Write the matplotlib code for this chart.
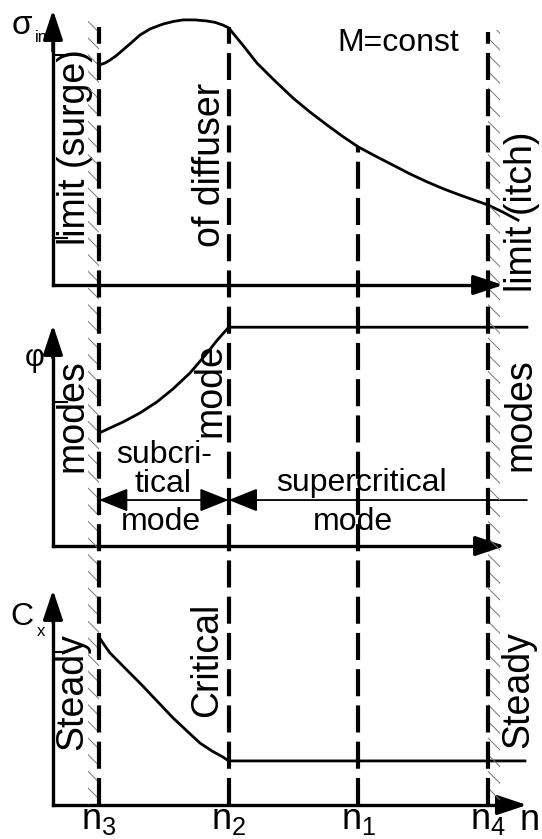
import matplotlib
matplotlib.use('Agg')
import matplotlib.pyplot as plt
from matplotlib.patches import Rectangle
from matplotlib.lines import Line2D
import matplotlib.transforms as mtransforms

plt.rcParams['font.family'] = ['Liberation Sans', 'DejaVu Sans']
plt.rcParams['mathtext.fontset'] = 'custom'
plt.rcParams['mathtext.rm'] = 'Liberation Sans'
plt.rcParams['hatch.linewidth'] = 0.7

# ---------------- data ----------------
n_ticks = [1.0, 2.0, 3.0, 4.0]
n_tick_labels = [r'$\mathregular{n_3}$', r'$\mathregular{n_2}$',
                 r'$\mathregular{n_1}$', r'$\mathregular{n_4}$']

sigma_n = [1.0, 1.046, 1.085, 1.131, 1.185, 1.247, 1.316, 1.393, 1.494, 1.571,
           1.648, 1.740, 1.833, 1.895, 1.957, 2.0,
           2.108, 2.218, 2.357, 2.496, 2.627, 2.758, 2.874, 3.0, 3.131,
           3.267, 3.398, 3.530, 3.660, 3.784, 3.892, 4.0, 4.115, 4.231]
sigma_val = [0.80, 0.807, 0.818, 0.833, 0.855, 0.880, 0.909, 0.931, 0.949, 0.958,
             0.964, 0.964, 0.960, 0.955, 0.945, 0.935,
             0.873, 0.807, 0.742, 0.680, 0.629, 0.582, 0.542, 0.502, 0.469,
             0.436, 0.404, 0.375, 0.349, 0.327, 0.309, 0.291, 0.265, 0.236]

phi_n = [1.0, 1.085, 1.185, 1.316, 1.447, 1.571, 1.702, 1.833, 1.910, 2.0, 4.30]
phi_val = [0.511, 0.534, 0.561, 0.602, 0.652, 0.711, 0.783, 0.873, 0.930, 0.99, 0.99]

cx_n = [1.0, 1.046, 1.085, 1.200, 1.316, 1.447, 1.571, 1.679, 1.779, 1.872, 1.956,
        2.0, 4.285]
cx_val = [0.781, 0.740, 0.707, 0.637, 0.567, 0.484, 0.405, 0.344, 0.288, 0.251,
          0.223, 0.205, 0.205]

# levels for boundary lines
n3_top = 0.938
n4_top = 0.92
sigma_at_n1 = 0.502
mode_arrow_y = 0.208

# ---------------- layout ----------------
W, H = 542, 839
fig = plt.figure(figsize=(W / 100, H / 100), dpi=100)
XLIM = (0.2365, 4.4164)
X_AXIS = 0.645
FS_ROT = 27
FS_H = 23
LW_AX = 2.4


def P(x, y):
    return x / W, 1 - y / H


def make_panel(rect, x_end, yticks):
    ax = fig.add_axes(rect)
    ax.set_xlim(*XLIM)
    ax.set_ylim(0, 1)
    ax.patch.set_visible(False)
    for s in ['top', 'right']:
        ax.spines[s].set_visible(False)
    ax.spines['left'].set_position(('data', X_AXIS))
    ax.spines['left'].set_bounds(0, 0.93)
    ax.spines['bottom'].set_position(('data', 0))
    ax.spines['bottom'].set_bounds(X_AXIS, x_end - 0.08)
    for s in ['left', 'bottom']:
        ax.spines[s].set_linewidth(LW_AX)
    ax.set_yticks(yticks)
    ax.tick_params(axis='y', direction='in', length=11, width=1.5, labelleft=False)
    ax.set_xticks([])
    ap = dict(arrowstyle='-|>,head_length=0.9,head_width=0.3', color='black',
              lw=LW_AX, mutation_scale=20, shrinkA=0, shrinkB=0)
    ax.annotate('', xy=(X_AXIS, 1.0), xytext=(X_AXIS, 0.85), arrowprops=ap,
                annotation_clip=False)
    ax.annotate('', xy=(x_end, 0), xytext=(x_end - 0.2, 0), arrowprops=ap,
                annotation_clip=False)
    return ax


ax_top = make_panel([0, (H - 285) / H, 1, 275 / H], 4.116, [0.836, 0.171])
ax_mid = make_panel([0, (H - 546) / H, 1, 221 / H], 4.131, [0.652])
ax_bot = make_panel([0, (H - 805) / H, 1, 215 / H], 4.30, [0.712])

ax_top.plot(sigma_n, sigma_val, color='black', lw=2.0, clip_on=False)
ax_mid.plot(phi_n, phi_val, color='black', lw=2.0, clip_on=False)
ax_bot.plot(cx_n, cx_val, color='black', lw=2.0, clip_on=False)

ax_bot.set_xticks(n_ticks)
ax_bot.set_xticklabels(n_tick_labels, fontsize=26)
ax_bot.tick_params(axis='x', length=0, pad=-2)

# mode arrows in middle panel
dbl = dict(arrowstyle='<|-|>,head_length=1.0,head_width=0.4', color='black',
           lw=1.3, mutation_scale=18, shrinkA=0, shrinkB=0)
ax_mid.annotate('', xy=(n_ticks[0], mode_arrow_y), xytext=(n_ticks[1], mode_arrow_y),
                arrowprops=dbl)
sgl = dict(arrowstyle='-|>,head_length=1.0,head_width=0.4', color='black',
           lw=1.3, mutation_scale=18, shrinkA=0, shrinkB=0)
ax_mid.annotate('', xy=(n_ticks[1], mode_arrow_y), xytext=(4.30, mode_arrow_y),
                arrowprops=sgl, annotation_clip=False)

# boundary dashed lines and hatching
trans = mtransforms.blended_transform_factory(ax_bot.transData, fig.transFigure)


def fig_y(ax, y):
    return fig.transFigure.inverted().transform(ax.transData.transform((1.0, y)))[1]


y_bottom = fig_y(ax_bot, 0)
tops = [fig_y(ax_top, n3_top), fig_y(ax_top, n3_top),
        fig_y(ax_top, sigma_at_n1), fig_y(ax_top, n4_top)]
for n, yt in zip(n_ticks, tops):
    fig.add_artist(Line2D([n, n], [y_bottom, yt], transform=trans, color='black',
                          lw=3.0, dashes=(6.5, 2.2), zorder=5))

hatch_top_l = 1 - 20 / H
hatch_top_r = 1 - 30 / H
fig.add_artist(Rectangle((0.915, y_bottom), 0.085, hatch_top_l - y_bottom,
                         transform=trans, fill=False, hatch='\\\\',
                         edgecolor='#777777', lw=0, zorder=4))
fig.add_artist(Rectangle((4.0, y_bottom), 0.093, hatch_top_r - y_bottom,
                         transform=trans, fill=False, hatch='\\\\',
                         edgecolor='#777777', lw=0, zorder=4))

# ---------------- texts ----------------
tr = dict(ha='center', va='center', fontsize=FS_ROT, rotation=90)
th = dict(ha='center', va='baseline', fontsize=FS_H)
fig.text(*P(75, 147), 'limit (surge)', **tr)
fig.text(*P(210, 165), 'of diffuser', **tr)
fig.text(*P(398, 51), 'M=const', **th)
fig.text(*P(522, 212), 'limit (itch)', **tr)
fig.text(*P(72, 416), 'modes', **tr)
fig.text(*P(210, 390), 'mode', **tr)
fig.text(*P(520, 415), 'modes', **tr)
fig.text(*P(164, 463), 'subcri-', **th)
fig.text(*P(163, 492), 'tical', **th)
fig.text(*P(161, 530), 'mode', **th)
fig.text(*P(361, 491), 'supercritical', **th)
fig.text(*P(353, 530), 'mode', **th)
fig.text(*P(72, 692), 'Steady', **tr)
fig.text(*P(207, 660), 'Critical', **tr)
fig.text(*P(518, 690), 'Steady', **tr)

fig.text(*P(22, 26), 'σ', ha='center', va='center', fontsize=24)
fig.text(*P(41, 37), 'in', ha='center', va='center', fontsize=12)
fig.text(*P(35, 358), 'φ', ha='center', va='center', fontsize=22)
fig.text(*P(22, 617), 'C', ha='center', va='center', fontsize=23)
fig.text(*P(41, 631), 'x', ha='center', va='center', fontsize=12)
fig.text(*P(530, 820), 'n', ha='center', va='center', fontsize=26)

fig.savefig('out.png', dpi=100)
